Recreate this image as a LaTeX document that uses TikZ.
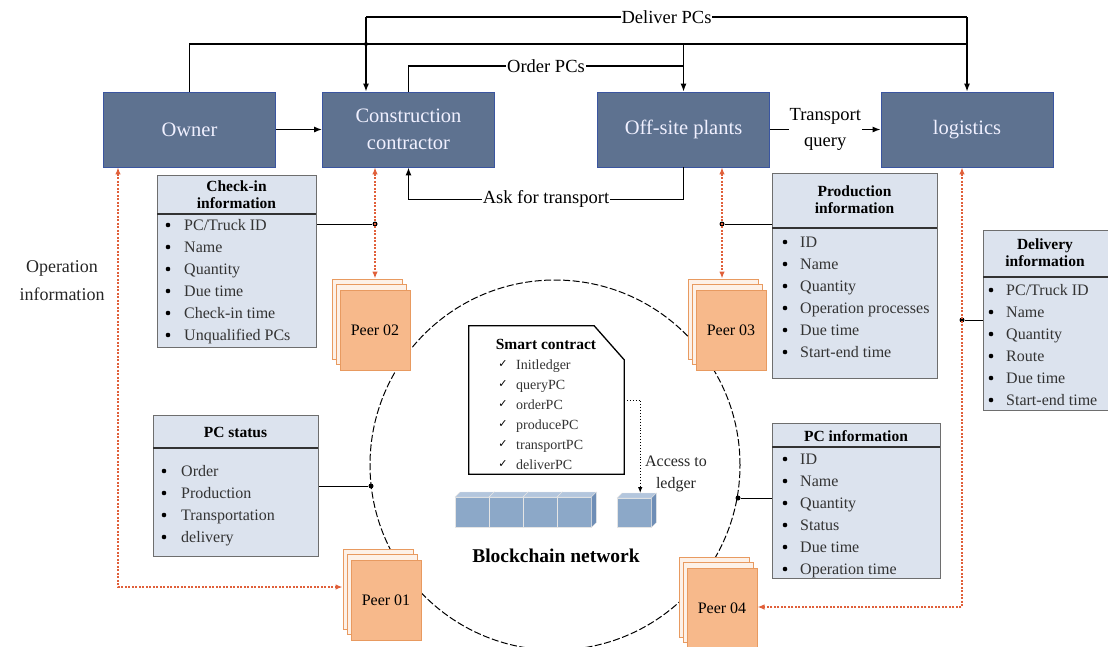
\documentclass[tikz,border=0pt]{standalone}
\usepackage{fontspec}
\setmainfont{Liberation Serif}
\newfontfamily\symfont{DejaVu Sans}
\usetikzlibrary{arrows.meta}
\definecolor{mainfill}{HTML}{5E7290}
\definecolor{mainline}{HTML}{3A55A0}
\definecolor{infofill}{HTML}{DCE3EE}
\definecolor{infoline}{HTML}{6E6E6E}
\definecolor{peerfill}{HTML}{F7B98B}
\definecolor{peerline}{HTML}{E89A60}
\definecolor{redline}{HTML}{E0603A}
\definecolor{cubefront}{HTML}{8CA8C8}
\definecolor{cubetop}{HTML}{B3C6DD}
\definecolor{cubeside}{HTML}{6F8EB6}
\newcommand\PeerStack[4]{%
  \node[peerback] (#1c) at (#2-8,#3-11) {};
  \node[peerback] (#1b) at (#2-4,#3-6) {};
  \node[peerfront] (#1) at (#2,#3) {#4};
}
\newcommand\CubeAt[5]{% name, x, y(top of front), w, h
  \node[cubefr, minimum width=#4pt, minimum height=#5pt, anchor=north west] (#1) at (#2,#3) {};
  \fill[cubetop, draw=white!80!gray, line width=0.4pt] (#1.north west) -- ++(5pt,5pt) -- ([shift={(5pt,5pt)}]#1.north east) -- (#1.north east) -- cycle;
  \fill[cubeside, draw=white!80!gray, line width=0.4pt] (#1.north east) -- ++(5pt,5pt) -- ([shift={(5pt,5pt)}]#1.south east) -- (#1.south east) -- cycle;
}
\begin{document}
\begin{tikzpicture}[x=1pt,y=-1pt,
  mainbox/.style={draw=mainline, line width=0.8pt, fill=mainfill, text=white!94!blue, minimum width=172pt, minimum height=75pt, font=\fontsize{20.5}{27}\selectfont, align=center, inner sep=0pt},
  infobox/.style={draw=infoline, line width=1.4pt, fill=infofill, anchor=north west, inner sep=0pt},
  infotitle/.style={font=\bfseries\fontsize{15.5}{17}\selectfont, align=center, inner sep=0pt},
  bul/.style={circle, fill=black, inner sep=0pt, minimum size=4.6pt},
  itm/.style={font=\fontsize{16}{16}\selectfont, anchor=base west, inner sep=0pt, text=black!80},
  lab/.style={fill=white, font=\fontsize{18.5}{26}\selectfont, inner sep=1pt, align=center},
  arr/.style={-{Latex[length=8pt,width=6pt]}, line width=1.3pt},
  link/.style={line width=1.3pt},
  thin/.style={line width=1pt},
  rarr/.style={{Latex[length=7pt,width=5.5pt]}-{Latex[length=7pt,width=5.5pt]}, redline, line width=1.3pt, dash pattern=on 2pt off 1.5pt},
  dot/.style={circle, fill=black, inner sep=0pt, minimum size=5pt},
  peerback/.style={draw=peerline, fill=peerfill!20, line width=1pt, minimum width=70pt, minimum height=80pt},
  peerfront/.style={draw=peerline, fill=peerfill, line width=1pt, minimum width=70pt, minimum height=80pt, font=\fontsize{16}{16}\selectfont},
  cubefr/.style={fill=cubefront, draw=white!80!gray, line width=0.4pt, inner sep=0pt},
  sep/.style={draw=black!80, line width=1.2pt},
]
\useasboundingbox (0,0) rectangle (1108,646);

% blockchain circle
\node[draw, dash pattern=on 7pt off 2.5pt, line width=1pt, circle, minimum size=370pt, inner sep=0pt] (net) at (555,465) {};

% main boxes
\node[mainbox] (owner) at (189.5,129.5) {Owner};
\node[mainbox] (cc) at (408.5,129.5) {Construction\\contractor};
\node[mainbox] (op) at (683.5,129.5) {Off-site plants};
\node[mainbox] (lg) at (967,129.5) {logistics};

% top connectors
\coordinate (dl) at (366,17);
\coordinate (h44) at (0,44);
\coordinate (h66) at (0,66);
\coordinate (dr) at (lg.north |- dl);
\draw[link] (dl) -- node[lab]{Deliver PCs} (dr);
\draw[arr] (dl) -- (dl |- cc.north);
\draw[arr] (dr) -- (lg.north);
\draw[link] (owner.north) |- (lg.north |- h44);
\node[dot, minimum size=4pt] (x1) at (dl |- h44) {};
\draw[arr] (op.north |- h44) -- (op.north);
\draw[link] (cc.north) |- node[lab,pos=0.75]{Order PCs} (op.north |- h66);
\draw[arr] (owner) -- (cc);
\draw[arr] (op) -- node[lab]{Transport\\query} (lg);
\draw[arr] (op.south) -- ++(0,32) -| node[lab,pos=0.25]{Ask for transport} (cc.south);

% operation information label
\node[font=\fontsize{18}{28}\selectfont, align=center, text=black!85] (opinfo) at (62,281) {Operation\\information};

% peers
\PeerStack{p2}{375}{330}{Peer 02}
\PeerStack{p3}{731}{330}{Peer 03}
\PeerStack{p1}{386}{600}{Peer 01}
\PeerStack{p4}{722}{608}{Peer 04}

% info boxes
\node[infobox, minimum width=159pt, minimum height=172pt] (checkin) at (157,175) {};
\draw[sep] (157,214) -- (316,214);
\node[infotitle] (checkinT) at (236.5,194.5) {Check-in\\information};
\foreach \t [count=\i] in {PC/Truck ID, Name, Quantity, Due time, Check-in time, Unqualified PCs}{
  \node[bul] (cib\i) at (168,203+22*\i) {};
  \node[itm] (cit\i) at (184,208.5+22*\i) {\t};
}

\node[infobox, minimum width=165pt, minimum height=205pt] (prod) at (772,173) {};
\draw[sep] (772,228) -- (937,228);
\node[infotitle] (prodT) at (854.5,200) {Production\\information};
\foreach \t [count=\i] in {ID, Name, Quantity, Operation processes, Due time, Start-end time}{
  \node[bul] (prb\i) at (785,220+22*\i) {};
  \node[itm] (prt\i) at (800,225.5+22*\i) {\t};
}

\node[infobox, minimum width=128pt, minimum height=180pt] (deliv) at (983,230) {};
\draw[sep] (983,277) -- (1108,277);
\node[infotitle] (delivT) at (1045,253) {Delivery\\information};
\foreach \t [count=\i] in {PC/Truck ID, Name, Quantity, Route, Due time, Start-end time}{
  \node[bul] (dvb\i) at (991,268+22*\i) {};
  \node[itm] (dvt\i) at (1006,273.5+22*\i) {\t};
}

\node[infobox, minimum width=165pt, minimum height=141pt] (status) at (153,415) {};
\draw[sep] (153,448) -- (318,448);
\node[infotitle] (statusT) at (235.5,432) {PC status};
\foreach \t [count=\i] in {Order, Production, Transportation, delivery}{
  \node[bul] (stb\i) at (164,449+22*\i) {};
  \node[itm] (stt\i) at (181,454.5+22*\i) {\t};
}

\node[infobox, minimum width=168pt, minimum height=155pt] (pcinfo) at (772,423) {};
\draw[sep] (772,447) -- (940,447);
\node[infotitle] (pcinfoT) at (856,436) {PC information};
\foreach \t [count=\i] in {ID, Name, Quantity, Status, Due time, Operation time}{
  \node[bul] (pib\i) at (785,437+22*\i) {};
  \node[itm] (pit\i) at (800,442.5+22*\i) {\t};
}

% dots and black links
\node[dot] (d1) at (375,224) {};
\node[dot] (d2) at (722,224) {};
\node[dot] (d3) at (962,320) {};
\node[dot] (d4) at (371,486) {};
\node[dot] (d5) at (738,498) {};
\draw[thin] (d1 -| checkin.east) -- (d1);
\draw[thin] (d2 -| prod.west) -- (d2);
\draw[thin] (d3 -| deliv.west) -- (d3);
\draw[thin] (d4 -| status.east) -- (d4);
\draw[thin] (d5 -| pcinfo.west) -- (d5);

% red dotted arrows
\draw[rarr] (d1 |- cc.south) -- (d1 |- p2c.north);
\draw[rarr] (d2 |- op.south) -- (d2 |- p3c.north);
\coordinate (o1) at (118,587);
\draw[rarr] (o1 |- owner.south) -- (o1) -- (o1 -| p1c.west);
\coordinate (l1) at (962,607);
\draw[rarr] (l1 |- lg.south) -- (l1) -- (l1 -| p4.east);

% smart contract
\node[minimum width=155pt, minimum height=148pt, inner sep=0pt] (sc) at (546.5,400) {};
\draw[line width=1.3pt, fill=white] (sc.south west) -- (sc.north west) -- ([xshift=-30pt]sc.north east) -- ([yshift=-34pt]sc.north east) -- (sc.south east) -- cycle;
\node[font=\bfseries\fontsize{15.5}{16}\selectfont, inner sep=0pt] (scT) at (546,344) {Smart contract};
\foreach \t [count=\i] in {Initledger, queryPC, orderPC, producePC, transportPC, deliverPC}{
  \node[font=\symfont\fontsize{11}{11}\selectfont, inner sep=0pt] (sck\i) at (503,344+20*\i) {✓};
  \node[font=\fontsize{14}{14}\selectfont, anchor=base west, inner sep=0pt, text=black!80] (sct\i) at (516,349+20*\i) {\t};
}

% blocks
\CubeAt{c1}{455}{497}{34}{30}
\CubeAt{c2}{489}{497}{34}{30}
\CubeAt{c3}{523}{497}{34}{30}
\CubeAt{c4}{557}{497}{34}{30}
\CubeAt{ledger}{617}{498}{34}{29}
\draw[-{Latex[length=6pt,width=4.5pt]}, dotted, line width=0.9pt] (sc.east) -| ([xshift=6pt,yshift=5pt]ledger.north);
\node[font=\fontsize{16}{22}\selectfont, align=center, text=black!85] (acc) at (676,474) {Access to\\ledger};
\node[font=\bfseries\fontsize{19.5}{20}\selectfont] (bcn) at (556,556) {Blockchain network};

\end{tikzpicture}
\end{document}
